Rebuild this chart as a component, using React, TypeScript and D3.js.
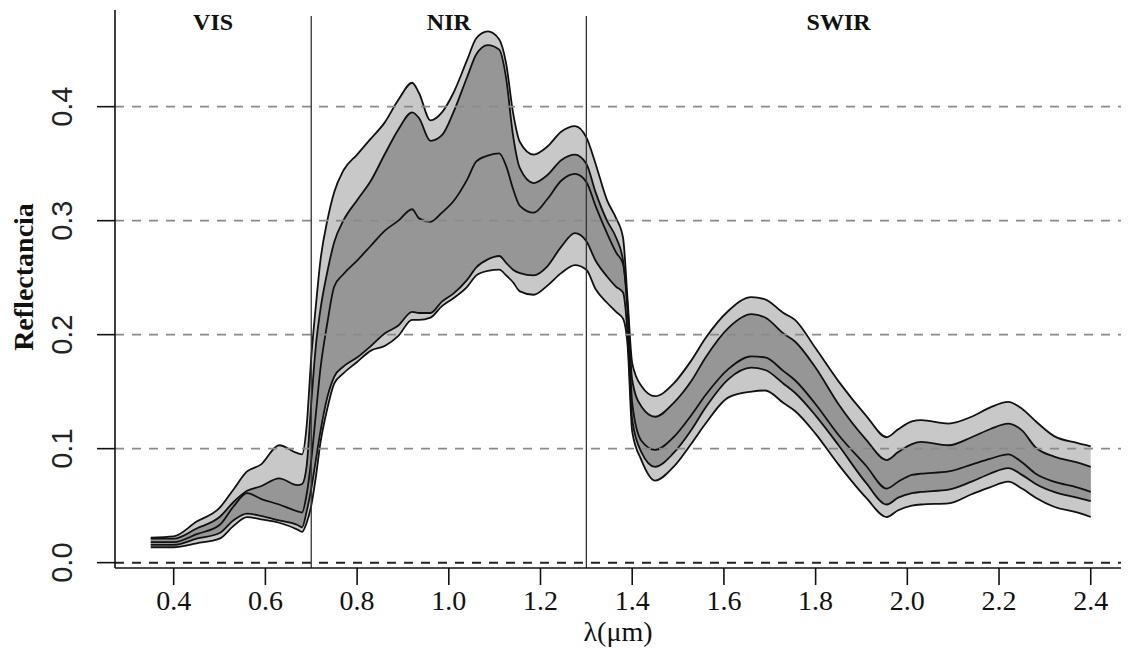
import React from 'react';
import * as d3 from 'd3';

const wavelength = [0.35, 0.40, 0.45, 0.50, 0.53, 0.56, 0.59, 0.63, 0.67, 0.68, 0.69, 0.70, 0.71, 0.72, 0.735, 0.75, 0.77, 0.80, 0.83, 0.86, 0.89, 0.92, 0.935, 0.96, 0.985, 1.01, 1.04, 1.06, 1.085, 1.11, 1.125, 1.14, 1.155, 1.185, 1.215, 1.245, 1.275, 1.30, 1.32, 1.345, 1.365, 1.38, 1.39, 1.40, 1.42, 1.45, 1.49, 1.53, 1.56, 1.61, 1.66, 1.69, 1.73, 1.755, 1.80, 1.85, 1.91, 1.955, 1.98, 2.01, 2.03, 2.09, 2.14, 2.18, 2.22, 2.25, 2.28, 2.32, 2.37, 2.40];

const upperOuter = [0.022, 0.023, 0.036, 0.048, 0.064, 0.080, 0.086, 0.103, 0.096, 0.095, 0.12, 0.18, 0.225, 0.265, 0.300, 0.325, 0.344, 0.358, 0.372, 0.386, 0.406, 0.421, 0.412, 0.388, 0.395, 0.412, 0.441, 0.460, 0.466, 0.459, 0.438, 0.395, 0.369, 0.358, 0.365, 0.378, 0.383, 0.373, 0.350, 0.318, 0.302, 0.285, 0.23, 0.175, 0.155, 0.146, 0.157, 0.178, 0.197, 0.221, 0.233, 0.231, 0.219, 0.213, 0.188, 0.159, 0.129, 0.110, 0.117, 0.124, 0.125, 0.122, 0.128, 0.136, 0.141, 0.135, 0.124, 0.111, 0.105, 0.102];

const upperInner = [0.021, 0.021, 0.030, 0.040, 0.053, 0.063, 0.067, 0.074, 0.068, 0.069, 0.085, 0.14, 0.19, 0.222, 0.255, 0.281, 0.300, 0.318, 0.335, 0.358, 0.380, 0.395, 0.390, 0.370, 0.375, 0.395, 0.426, 0.446, 0.454, 0.450, 0.425, 0.375, 0.346, 0.333, 0.340, 0.353, 0.358, 0.350, 0.325, 0.300, 0.285, 0.265, 0.225, 0.160, 0.137, 0.128, 0.140, 0.160, 0.180, 0.206, 0.218, 0.215, 0.201, 0.194, 0.171, 0.139, 0.108, 0.090, 0.097, 0.104, 0.106, 0.103, 0.110, 0.117, 0.122, 0.116, 0.101, 0.093, 0.088, 0.084];

const median = [0.018, 0.018, 0.025, 0.033, 0.049, 0.061, 0.056, 0.051, 0.045, 0.044, 0.060, 0.090, 0.130, 0.170, 0.210, 0.242, 0.253, 0.265, 0.278, 0.291, 0.300, 0.310, 0.302, 0.299, 0.307, 0.317, 0.336, 0.352, 0.357, 0.359, 0.348, 0.328, 0.313, 0.307, 0.319, 0.335, 0.341, 0.334, 0.313, 0.289, 0.272, 0.262, 0.22, 0.140, 0.107, 0.099, 0.110, 0.130, 0.147, 0.170, 0.181, 0.180, 0.168, 0.160, 0.139, 0.112, 0.085, 0.065, 0.071, 0.077, 0.078, 0.080, 0.086, 0.091, 0.095, 0.088, 0.078, 0.071, 0.066, 0.062];

const lowerInner = [0.0155, 0.0155, 0.021, 0.026, 0.037, 0.043, 0.041, 0.037, 0.033, 0.031, 0.045, 0.065, 0.090, 0.115, 0.145, 0.163, 0.172, 0.180, 0.190, 0.201, 0.208, 0.220, 0.219, 0.219, 0.229, 0.236, 0.248, 0.259, 0.266, 0.269, 0.263, 0.257, 0.254, 0.252, 0.260, 0.277, 0.289, 0.282, 0.265, 0.251, 0.242, 0.237, 0.20, 0.125, 0.097, 0.084, 0.096, 0.117, 0.136, 0.161, 0.171, 0.169, 0.157, 0.149, 0.129, 0.103, 0.070, 0.051, 0.057, 0.061, 0.062, 0.064, 0.071, 0.078, 0.083, 0.077, 0.069, 0.062, 0.057, 0.054];

const lowerOuter = [0.0135, 0.0135, 0.017, 0.021, 0.032, 0.040, 0.038, 0.035, 0.029, 0.027, 0.035, 0.050, 0.075, 0.105, 0.135, 0.157, 0.166, 0.176, 0.186, 0.190, 0.199, 0.213, 0.213, 0.215, 0.225, 0.232, 0.242, 0.252, 0.256, 0.257, 0.252, 0.246, 0.238, 0.235, 0.243, 0.254, 0.261, 0.257, 0.240, 0.228, 0.220, 0.214, 0.19, 0.115, 0.090, 0.072, 0.084, 0.105, 0.122, 0.145, 0.150, 0.151, 0.140, 0.133, 0.113, 0.086, 0.057, 0.040, 0.046, 0.050, 0.051, 0.052, 0.060, 0.066, 0.071, 0.065, 0.057, 0.049, 0.044, 0.040];

const xTicks = [0.4, 0.6, 0.8, 1.0, 1.2, 1.4, 1.6, 1.8, 2.0, 2.2, 2.4];
const yTicks = [0.0, 0.1, 0.2, 0.3, 0.4];
const gridValues = [0.1, 0.2, 0.3, 0.4];
const regionBounds = [0.7, 1.3];
const regionLabels = ['VIS', 'NIR', 'SWIR'];
const regionEdges = [0.272, 0.7, 1.3, 2.4];

const W = 1134;
const H = 656;
const left = 115;
const right = 1121;
const top = 10;
const bottom = 568;

export default function App() {
  const x = d3.scaleLinear().domain([0.272, 2.466]).range([left, right]);
  const y = d3.scaleLinear().domain([-0.0047, 0.4848]).range([bottom, top]);

  const idx = wavelength.map((_, i) => i);
  const curve = d3.curveMonotoneX;
  const band = (lo: number[], hi: number[]) =>
    d3.area<number>().x((i) => x(wavelength[i])).y0((i) => y(lo[i])).y1((i) => y(hi[i])).curve(curve)(idx) || '';
  const line = (v: number[]) =>
    d3.line<number>().x((i) => x(wavelength[i])).y((i) => y(v[i])).curve(curve)(idx) || '';

  const serif = '"Liberation Serif", "Times New Roman", serif';
  const sans = '"Liberation Sans", Arial, sans-serif';

  return (
    <svg width={W} height={H} style={{ position: 'absolute', left: 0, top: 0, background: '#fff' }}>
      <rect x={0} y={0} width={W} height={H} fill="#fff" />
      <path d={band(lowerOuter, upperOuter)} fill="#c8c8c8" stroke="none" />
      <path d={band(lowerInner, upperInner)} fill="#969696" stroke="none" />
      {[upperOuter, upperInner, median, lowerInner, lowerOuter].map((v, k) => (
        <path key={k} d={line(v)} fill="none" stroke="#111" strokeWidth={1.8} strokeLinejoin="round" />
      ))}
      {gridValues.map((g) => (
        <line key={g} x1={left} x2={right} y1={y(g)} y2={y(g)} stroke="#8a8a8a" strokeWidth={1.6} strokeDasharray="9 8" />
      ))}
      <line x1={left} x2={right} y1={y(0)} y2={y(0)} stroke="#222" strokeWidth={2} strokeDasharray="9 8" />
      {regionBounds.map((b) => (
        <line key={b} x1={x(b)} x2={x(b)} y1={top + 6} y2={bottom} stroke="#333" strokeWidth={1.3} />
      ))}
      {regionLabels.map((lab, i) => (
        <text key={lab} x={(x(regionEdges[i]) + x(regionEdges[i + 1])) / 2} y={30} textAnchor="middle"
          fontFamily={serif} fontWeight="bold" fontSize={24} fill="#111">{lab}</text>
      ))}
      <line x1={left} x2={left} y1={top} y2={bottom} stroke="#111" strokeWidth={1.6} />
      <line x1={left} x2={right} y1={bottom} y2={bottom} stroke="#111" strokeWidth={1.6} />
      {xTicks.map((t) => (
        <g key={t}>
          <line x1={x(t)} x2={x(t)} y1={bottom} y2={bottom + 17} stroke="#111" strokeWidth={1.6} />
          <text x={x(t)} y={610} textAnchor="middle" fontFamily={serif} fontSize={28} fill="#111">{t.toFixed(1)}</text>
        </g>
      ))}
      {yTicks.map((t) => (
        <g key={t}>
          <line x1={left - 18} x2={left} y1={y(t)} y2={y(t)} stroke="#111" strokeWidth={1.6} />
          <text transform={`translate(72,${y(t)}) rotate(-90)`} textAnchor="middle" fontFamily={sans} fontSize={29} fill="#222">{t.toFixed(1)}</text>
        </g>
      ))}
      <text x={(left + right) / 2} y={641} textAnchor="middle" fontFamily={serif} fontSize={28} fill="#111">λ(μm)</text>
      <text transform={`translate(33,277) rotate(-90)`} textAnchor="middle" fontFamily={serif} fontWeight="bold" fontSize={28} fill="#111">Reflectancia</text>
    </svg>
  );
}
